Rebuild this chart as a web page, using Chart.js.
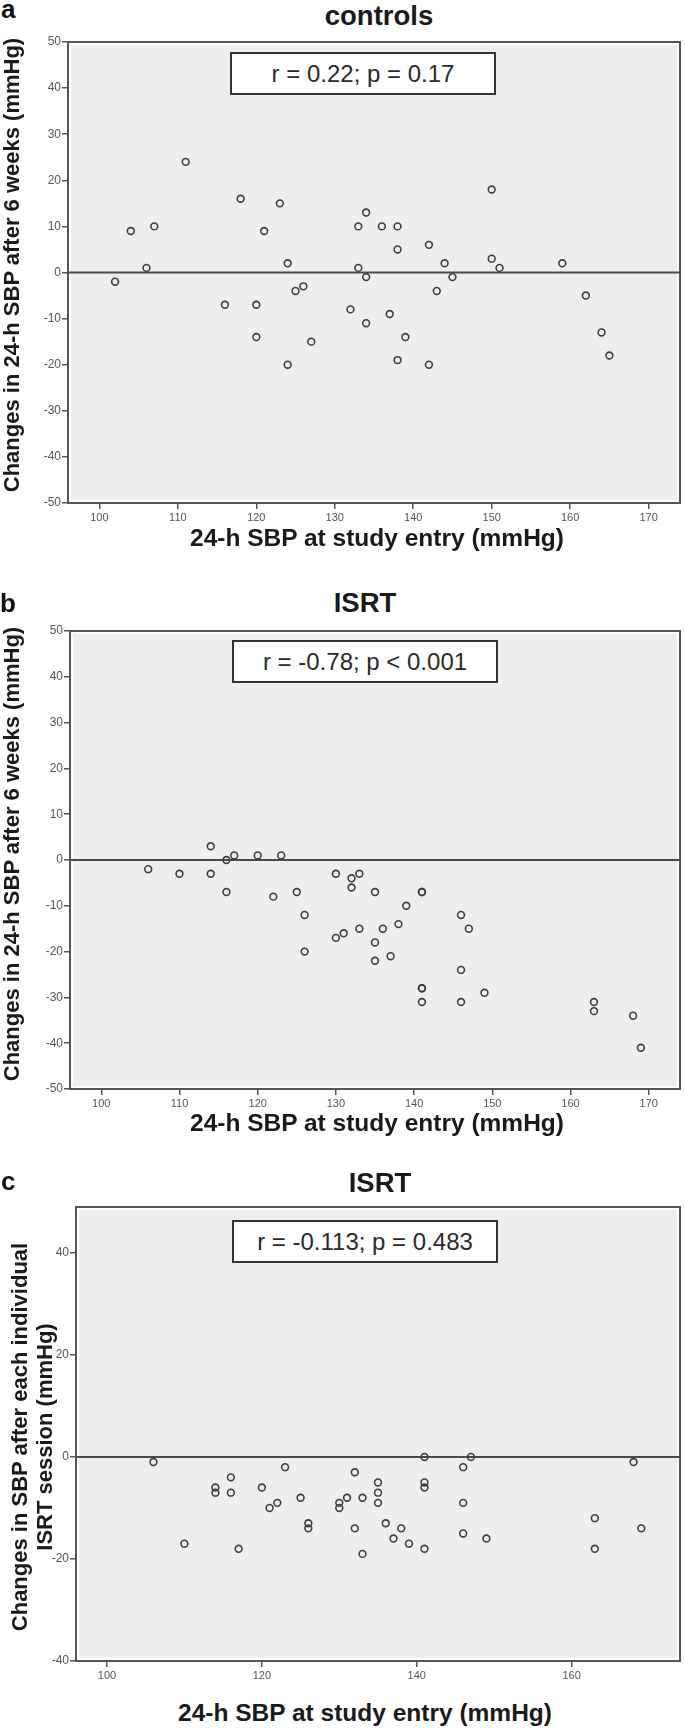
<!DOCTYPE html>
<html><head><meta charset="utf-8">
<script src="https://cdn.jsdelivr.net/npm/chart.js@4.4.1/dist/chart.umd.min.js"></script>
<style>
html,body{margin:0;padding:0;background:#fff;width:685px;height:1729px;overflow:hidden;position:relative;font-family:"Liberation Sans",Arial,sans-serif;}
canvas{position:absolute;left:0;}
.t{position:absolute;white-space:nowrap;line-height:1;color:#1a1a1a;}
.box{position:absolute;background:#fff;border:2px solid #333;box-sizing:border-box;}
</style></head><body>
<script>
// ---- data ----
const controlsX = [102,104,106,107,111,116,118,120,120,121,123,124,124,125,126,127,132,133,133,134,134,134,136,137,138,138,138,139,142,142,143,144,145,150,150,151,159,162,164,165];
const controlsY = [-2,9,1,10,24,-7,16,-7,-14,9,15,2,-20,-4,-3,-15,-8,10,1,13,-1,-11,10,-9,10,5,-19,-14,6,-20,-4,2,-1,18,3,1,2,-5,-13,-18];
const isrtX = [106,110,114,114,116,116,117,120,122,123,125,126,126,130,130,131,132,132,133,133,135,135,135,136,137,138,139,141,141,141,141,141,146,146,146,147,149,163,163,168,169];
const isrtY = [-2,-3,3,-3,0,-7,1,1,-8,1,-7,-12,-20,-3,-17,-16,-4,-6,-3,-15,-7,-18,-22,-15,-21,-14,-10,-7,-7,-28,-28,-31,-12,-24,-31,-15,-29,-31,-33,-34,-41];
const sessionX = [106,110,114,114,116,116,117,120,121,122,123,125,126,126,130,130,131,132,132,133,133,135,135,135,136,137,138,139,141,141,141,141,146,146,146,147,149,163,163,168,169];
const sessionY = [-1,-17,-6,-7,-4,-7,-18,-6,-10,-9,-2,-8,-13,-14,-9,-10,-8,-3,-14,-8,-19,-5,-7,-9,-13,-16,-14,-17,0,-5,-6,-18,-2,-9,-15,0,-16,-12,-18,-1,-14];
const xTicksAB = [100,110,120,130,140,150,160,170];
const yTicksAB = [-50,-40,-30,-20,-10,0,10,20,30,40,50];
const xTicksC = [100,120,140,160];
const yTicksC = [-40,-20,0,20,40];
const panelLetters = ['a','b','c'];
const panelTitles = ['controls','ISRT','ISRT'];
const statTexts = ['r = 0.22; p = 0.17','r = -0.78; p < 0.001','r = -0.113; p = 0.483'];
const xTitle = '24-h SBP at study entry (mmHg)';
const yTitleAB = 'Changes in 24-h SBP after 6 weeks (mmHg)';
const yTitleC = ['Changes in SBP after each individual','ISRT session (mmHg)'];

const FONT = '"Liberation Sans", Arial, sans-serif';

function addText(str, o){
  const d = document.createElement('div');
  d.className = 't';
  d.textContent = str;
  d.style.fontSize = o.size + 'px';
  d.style.fontWeight = o.bold ? '700' : '400';
  if (o.color) d.style.color = o.color;
  if (o.rotate){
    const cx = o.bx - 0.346*o.size;
    d.style.left = cx + 'px';
    d.style.top = o.cy + 'px';
    d.style.transform = 'translate(-50%,-50%) rotate(-90deg)';
  } else {
    d.style.top = (o.by - 0.8465*o.size) + 'px';
    if (o.cx !== undefined){ d.style.left = o.cx + 'px'; d.style.transform = 'translateX(-50%)'; }
    else d.style.left = o.x + 'px';
  }
  document.body.appendChild(d);
}
function addBox(l,t,w,h,text){
  const b = document.createElement('div');
  b.className = 'box';
  b.style.left = l+'px'; b.style.top = t+'px'; b.style.width = w+'px'; b.style.height = h+'px';
  document.body.appendChild(b);
  addText(text,{cx:l+w/2, by:t+h/2+8.6, size:24, color:'#2a2a2a'});
}

const framePlugin = {
  id:'frame',
  beforeDraw(chart){
    const {ctx, chartArea:a} = chart;
    ctx.save();
    ctx.fillStyle = '#ffffff';
    ctx.fillRect(a.left, a.top, a.right-a.left, a.bottom-a.top);
    ctx.fillStyle = '#eeeeee';
    ctx.fillRect(a.left+3, a.top+3, a.right-a.left-6, a.bottom-a.top-6);
    ctx.strokeStyle = '#555555';
    ctx.lineWidth = 2;
    ctx.strokeRect(a.left, a.top, a.right-a.left, a.bottom-a.top);
    ctx.restore();
  },
  beforeDatasetsDraw(chart){
    const {ctx, chartArea:a} = chart;
    const y0 = chart.scales.y.getPixelForValue(0);
    ctx.save();
    ctx.strokeStyle = '#4a4a4a';
    ctx.lineWidth = 2;
    ctx.beginPath(); ctx.moveTo(a.left, y0); ctx.lineTo(a.right, y0); ctx.stroke();
    ctx.restore();
  }
};

function makePanel(T,B,L,R,xs,ys,ymin,ymax,xt,yt){
  const c = document.createElement('canvas');
  const H = B - T + 40;
  c.width = 685; c.height = H;
  c.style.width = '685px'; c.style.height = H + 'px';
  c.style.top = (T - 10) + 'px';
  document.body.appendChild(c);
  const gridOpts = {display:true, drawOnChartArea:false, drawTicks:true, tickLength:6, color:'#555', lineWidth:1.5};
  new Chart(c, {
    type:'scatter',
    data:{datasets:[{
      data: xs.map((x,i)=>({x:x, y:ys[i]})),
      pointStyle:'circle', pointRadius:3.4, pointHoverRadius:3.4,
      pointBorderWidth:1.6, pointBorderColor:'#3e3e3e', pointBackgroundColor:'rgba(0,0,0,0)'
    }]},
    options:{
      responsive:false, animation:false, events:[], devicePixelRatio:1,
      layout:{padding:{top:10, right:685-R, left:0, bottom:0}},
      plugins:{legend:{display:false}, tooltip:{enabled:false}},
      scales:{
        x:{type:'linear', min:96, max:174,
           afterBuildTicks:s=>{ s.ticks = xt.map(v=>({value:v})); },
           afterFit:s=>{ s.height = 30; },
           grid:gridOpts, border:{display:false},
           ticks:{padding:2, autoSkip:false, maxRotation:0, color:'#555', font:{size:11, family:FONT}}},
        y:{type:'linear', min:ymin, max:ymax,
           afterBuildTicks:s=>{ s.ticks = yt.map(v=>({value:v})); },
           afterFit:s=>{ s.width = L; },
           grid:gridOpts, border:{display:false},
           ticks:{padding:1, autoSkip:false, color:'#555', font:{size:12, family:FONT}}}
      }
    },
    plugins:[framePlugin]
  });
}

// Panel a
makePanel(42,503,68,683,controlsX,controlsY,-50,50,xTicksAB,yTicksAB);
// Panel b
makePanel(631,1089,70,682,isrtX,isrtY,-50,50,xTicksAB,yTicksAB);
// Panel c
makePanel(1207,1661,76,681,sessionX,sessionY,-40,49,xTicksC,yTicksC);

// texts
addText(panelLetters[0],{x:1, by:18, size:26, bold:true, color:'#111'});
addText(panelLetters[1],{x:0, by:612, size:26, bold:true, color:'#111'});
addText(panelLetters[2],{x:1, by:1190, size:26, bold:true, color:'#111'});
addText(panelTitles[0],{cx:379, by:25, size:27.5, bold:true});
addText(panelTitles[1],{cx:365, by:612, size:27.5, bold:true});
addText(panelTitles[2],{cx:380, by:1192, size:27.5, bold:true});
addText(xTitle,{cx:377, by:547, size:24.5, bold:true});
addText(xTitle,{cx:377, by:1132, size:24.5, bold:true});
addText(xTitle,{cx:365, by:1722, size:24.5, bold:true});
addText(yTitleAB,{rotate:true, bx:20, cy:265, size:22, bold:true});
addText(yTitleAB,{rotate:true, bx:20, cy:854, size:22, bold:true});
addText(yTitleC[0],{rotate:true, bx:28, cy:1437, size:22, bold:true});
addText(yTitleC[1],{rotate:true, bx:53, cy:1437, size:22, bold:true});

addBox(230,52,266,43,statTexts[0]);
addBox(232,640,266,43,statTexts[1]);
addBox(232,1220,266,43,statTexts[2]);
</script>
</body></html>
